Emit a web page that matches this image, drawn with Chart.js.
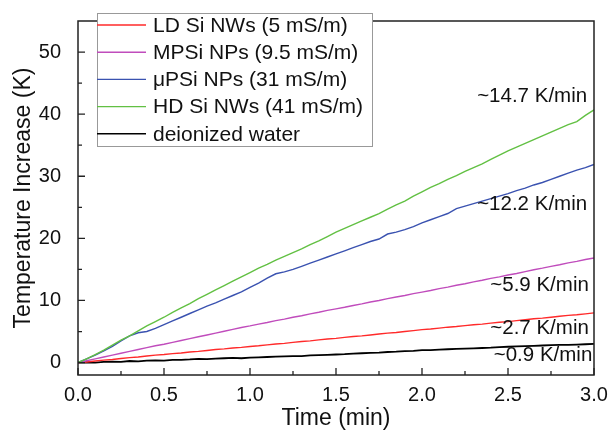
<!DOCTYPE html>
<html>
<head>
<meta charset="utf-8">
<script src="https://cdn.jsdelivr.net/npm/chart.js@4.4.0/dist/chart.umd.min.js"></script>
<style>
  body { margin: 0; background: #fff; }
  canvas { display: block; }
</style>
</head>
<body>
<canvas id="cvg" width="611" height="433"></canvas>
<script>
// time axis (min)
var times = [0,0.05,0.1,0.15,0.2,0.25,0.3,0.35,0.4,0.45,0.5,0.55,0.6,0.65,0.7,0.75,0.8,0.85,0.9,0.95,
  1,1.05,1.1,1.15,1.2,1.25,1.3,1.35,1.4,1.45,1.5,1.55,1.6,1.65,1.7,1.75,1.8,1.85,1.9,1.95,
  2,2.05,2.1,2.15,2.2,2.25,2.3,2.35,2.4,2.45,2.5,2.55,2.6,2.65,2.7,2.75,2.8,2.85,2.9,2.95,3];

var ldSi = [0,0.1,0.25,0.4,0.5,0.65,0.8,0.9,1.05,1.2,1.3,1.45,1.55,1.7,1.8,1.95,2.1,2.2,2.35,2.45,
  2.6,2.7,2.85,3.0,3.1,3.25,3.4,3.5,3.65,3.8,3.9,4.05,4.2,4.3,4.45,4.6,4.75,4.85,5.0,5.15,
  5.3,5.4,5.55,5.7,5.8,5.95,6.1,6.2,6.35,6.5,6.6,6.75,6.9,7.05,7.15,7.3,7.45,7.6,7.7,7.85,8.0];

var mpSi = [0,0.3,0.6,0.9,1.2,1.5,1.8,2.1,2.4,2.7,2.95,3.25,3.55,3.85,4.15,4.45,4.75,5.05,5.35,5.65,
  5.9,6.2,6.45,6.75,7.0,7.3,7.55,7.85,8.1,8.4,8.65,8.9,9.2,9.45,9.75,10.0,10.3,10.55,10.8,11.1,
  11.35,11.6,11.9,12.15,12.45,12.7,13.0,13.25,13.55,13.8,14.1,14.35,14.65,14.95,15.2,15.5,15.75,16.05,16.3,16.6,16.85];

var muPSi = [0,0.6,1.2,1.9,2.6,3.5,4.3,4.8,5.0,5.5,6.1,6.7,7.3,7.9,8.5,9.1,9.6,10.2,10.8,11.4,
  12.1,12.8,13.6,14.3,14.6,15.0,15.5,16.0,16.5,17.0,17.5,18.0,18.5,19.0,19.5,19.9,20.7,21.0,21.4,21.9,
  22.5,23.0,23.5,24.0,24.8,25.2,25.6,26.0,26.4,26.8,27.2,27.7,28.1,28.6,29.0,29.5,30.0,30.5,31.0,31.4,31.9];

var hdSi = [0,0.6,1.3,2.0,2.8,3.6,4.3,5.1,5.9,6.6,7.3,8.1,8.8,9.5,10.3,11.0,11.7,12.4,13.1,13.8,
  14.5,15.2,15.8,16.5,17.1,17.7,18.3,19.0,19.6,20.3,21.0,21.6,22.2,22.8,23.4,24.0,24.7,25.4,26.0,26.8,
  27.5,28.2,28.8,29.5,30.1,30.8,31.4,32.0,32.7,33.4,34.1,34.7,35.3,35.9,36.5,37.1,37.7,38.3,38.8,39.8,40.7];

var water = [0,0.05,0.0,0.1,0.15,0.1,0.25,0.2,0.3,0.35,0.3,0.45,0.45,0.5,0.6,0.55,0.65,0.7,0.75,0.7,
  0.8,0.85,0.9,0.95,1.0,1.05,1.05,1.15,1.2,1.25,1.3,1.35,1.45,1.5,1.55,1.6,1.7,1.75,1.85,1.9,
  2.0,2.0,2.1,2.15,2.2,2.25,2.3,2.35,2.4,2.5,2.55,2.6,2.65,2.7,2.75,2.8,2.85,2.85,2.9,2.95,3.0];

var seriesNames = ['LD Si NWs (5 mS/m)', 'MPSi NPs (9.5 mS/m)', '\u03bcPSi NPs (31 mS/m)', 'HD Si NWs (41 mS/m)', 'deionized water'];
var seriesColors = ['#ff2a2a', '#c04cbc', '#3a52b0', '#62c043', '#000000'];
var allSeries = [ldSi, mpSi, muPSi, hdSi, water];

// rate labels: text, x (min), y (K)
var rateText = ['~14.7 K/min', '~12.2 K/min', '~5.9 K/min', '~2.7 K/min', '~0.9 K/min'];
var rateX = [2.96, 2.96, 2.97, 2.97, 2.99];
var rateY = [42.9, 25.4, 12.4, 5.5, 1.15];

var xTicks = [0, 0.5, 1, 1.5, 2, 2.5, 3];
var xMinor = [0.25, 0.75, 1.25, 1.75, 2.25, 2.75];
var yTicks = [0, 10, 20, 30, 40, 50];
var yMinor = [5, 15, 25, 35, 45];

var FONT = "'Liberation Sans', Arial, sans-serif";

function toPoints(arr) {
  return arr.map(function(v, i){ return {x: times[i], y: v}; });
}

var datasets = allSeries.map(function(s, i){
  return {
    label: seriesNames[i],
    data: toPoints(s),
    borderColor: seriesColors[i],
    backgroundColor: seriesColors[i],
    borderWidth: i == 4 ? 1.8 : 1.4,
    pointRadius: 0,
    tension: 0,
    fill: false
  };
});
// black on the bottom, like the plot
datasets.forEach(function(d, i){ d.order = i == 4 ? 10 : 5 - i; });

var framePlugin = {
  id: 'frame',
  afterDatasetsDraw: function(chart){
    var ctx = chart.ctx;
    var a = chart.chartArea;
    var xs = chart.scales.x, ys = chart.scales.y;
    ctx.save();
    ctx.strokeStyle = '#222';
    ctx.lineWidth = 1.5;
    ctx.strokeRect(a.left, a.top, a.right - a.left, a.bottom - a.top);
    ctx.lineWidth = 1.3;
    ctx.beginPath();
    xTicks.forEach(function(t){ var p = xs.getPixelForValue(t); ctx.moveTo(p, a.bottom); ctx.lineTo(p, a.bottom - 7); });
    xMinor.forEach(function(t){ var p = xs.getPixelForValue(t); ctx.moveTo(p, a.bottom); ctx.lineTo(p, a.bottom - 4); });
    yTicks.forEach(function(t){ var p = ys.getPixelForValue(t); ctx.moveTo(a.left, p); ctx.lineTo(a.left + 7, p); });
    yMinor.forEach(function(t){ var p = ys.getPixelForValue(t); ctx.moveTo(a.left, p); ctx.lineTo(a.left + 4, p); });
    ctx.stroke();

    // rate annotations
    ctx.fillStyle = '#111';
    ctx.font = '20.5px ' + FONT;
    ctx.textAlign = 'right';
    ctx.textBaseline = 'middle';
    rateText.forEach(function(t, i){
      ctx.fillText(t, xs.getPixelForValue(rateX[i]), ys.getPixelForValue(rateY[i]));
    });

    // legend box
    var lx = 97, ly = 13, lw = 275, lh = 133;
    ctx.fillStyle = '#fff';
    ctx.fillRect(lx, ly, lw, lh);
    ctx.strokeStyle = '#999';
    ctx.lineWidth = 1;
    ctx.strokeRect(lx + 0.5, ly + 0.5, lw, lh);
    ctx.textAlign = 'left';
    ctx.font = '21px ' + FONT;
    chart.data.datasets.forEach(function(d, i){
      var yy = 25 + i * 27.2;
      ctx.strokeStyle = d.borderColor;
      ctx.lineWidth = 1.4;
      ctx.beginPath();
      ctx.moveTo(lx, yy);
      ctx.lineTo(lx + 49, yy);
      ctx.stroke();
      ctx.fillStyle = '#111';
      ctx.fillText(d.label, 153, yy + 1);
    });
    ctx.restore();
  }
};

var cv = document.getElementById('cvg');
var myChart = new Chart(cv.getContext('2d'), {
  type: 'line',
  data: { datasets: datasets },
  options: {
    responsive: false,
    animation: false,
    layout: { padding: { top: 10, right: 17, left: 0, bottom: 0 } },
    plugins: { legend: { display: false }, tooltip: { enabled: false } },
    scales: {
      x: {
        type: 'linear', min: 0, max: 3,
        grid: { display: false },
        border: { display: false },
        afterBuildTicks: function(s){ s.ticks = xTicks.map(function(v){ return {value: v}; }); },
        afterFit: function(s){ s.height = 58; },
        ticks: {
          padding: 0, color: '#111', maxRotation: 0,
          font: { family: FONT, size: 20 },
          callback: function(v){ return Number(v).toFixed(1); }
        },
        title: { display: true, text: 'Time (min)', color: '#111', padding: 1, font: { family: FONT, size: 23 } }
      },
      y: {
        min: -2, max: 55,
        grid: { display: false },
        border: { display: false },
        afterBuildTicks: function(s){ s.ticks = yTicks.map(function(v){ return {value: v}; }); },
        afterFit: function(s){ s.width = 78; },
        ticks: {
          padding: 9, color: '#111',
          font: { family: FONT, size: 20 }
        },
        title: { display: true, text: 'Temperature Increase (K)', color: '#111', padding: 10, font: { family: FONT, size: 23 } }
      }
    }
  },
  plugins: [framePlugin]
});
</script>
</body>
</html>
